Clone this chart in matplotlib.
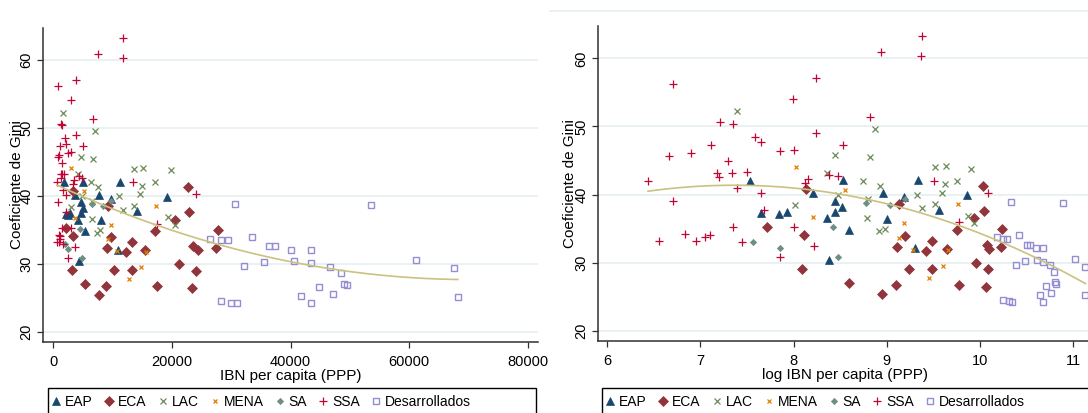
import numpy as np
import matplotlib
matplotlib.use("Agg")
import matplotlib.pyplot as plt
from matplotlib.lines import Line2D
from matplotlib.patches import Rectangle

plt.rcParams['font.family'] = ['Liberation Sans', 'DejaVu Sans']

# log del IBN per capita (PPP) y coeficiente de Gini por region
eap_log = [7.53, 8.21, 7.65, 7.84, 7.93, 8.38, 8.45, 8.45, 8.52, 8.36, 8.53, 9.33,
           8.96, 9.86, 9.18, 9.56, 9.00, 8.59, 9.30]
eap_gini = [42.0, 40.2, 37.3, 37.2, 37.5, 30.4, 39.1, 37.5, 38.2, 36.5, 42.1, 42.1,
            40.2, 39.9, 39.6, 37.8, 36.4, 34.8, 32.1]

eca_log = [8.13, 7.72, 8.11, 8.09, 10.03, 9.13, 10.04, 9.93, 9.75, 10.23, 9.19, 9.11,
           9.42, 9.49, 9.65, 10.07, 10.10, 10.22, 9.24, 9.49, 9.96, 10.09, 8.59, 8.95,
           9.10, 9.77, 10.06]
eca_gini = [40.8, 35.3, 34.1, 29.1, 41.3, 38.6, 37.6, 36.5, 34.8, 35.0, 33.9, 32.3,
            31.7, 33.2, 32.0, 32.6, 32.0, 32.3, 29.1, 29.1, 30.0, 29.0, 27.0, 25.4,
            26.7, 26.7, 26.5]

lac_log = [7.39, 8.02, 8.45, 8.36, 8.48, 8.75, 8.93, 9.62, 9.75, 9.32, 9.59, 8.80,
           9.38, 9.52, 9.87, 9.93, 8.79, 8.92, 8.98, 8.87, 8.82, 9.52, 9.63, 9.90]
lac_gini = [52.3, 38.4, 45.8, 43.2, 40.0, 42.0, 41.3, 41.5, 42.0, 40.0, 40.3, 39.3,
            38.0, 38.6, 36.9, 35.8, 36.6, 34.6, 35.0, 49.6, 45.5, 44.0, 44.2, 43.8]

mena_log = [8.03, 8.21, 8.55, 9.76, 9.18, 9.13, 9.28, 9.66, 9.60, 9.45]
mena_gini = [44.1, 36.7, 40.7, 38.6, 35.8, 33.6, 31.9, 31.8, 29.5, 27.8]

sa_log = [7.57, 7.85, 8.48, 8.42, 8.78, 9.03, 9.19]
sa_gini = [33.0, 32.2, 30.8, 35.2, 38.8, 38.5, 39.3]

ssa_log = [6.44, 6.71, 6.71, 6.66, 6.90, 7.12, 7.21, 7.35, 7.30, 7.18, 7.20, 7.34,
           7.39, 7.50, 7.59, 7.65, 7.65, 7.86, 8.01, 7.99, 8.24, 8.24, 8.16, 8.12,
           8.38, 8.48, 8.53, 7.68, 7.35, 8.00, 8.22, 6.56, 6.84, 6.95, 7.05, 7.11,
           7.45, 7.86, 8.94, 9.38, 9.37, 8.82, 9.51, 10.09, 9.77]
ssa_gini = [42.0, 56.2, 39.1, 45.7, 46.1, 47.3, 50.6, 50.4, 44.9, 43.2, 42.6, 43.2,
            40.9, 43.3, 48.5, 47.7, 40.2, 46.4, 46.5, 54.1, 49.0, 57.1, 42.3, 41.7,
            42.9, 42.7, 47.3, 37.7, 35.3, 35.3, 32.5, 33.2, 34.2, 33.2, 33.7, 34.1,
            33.0, 30.8, 60.9, 63.3, 60.3, 51.4, 42.0, 40.3, 35.9]

des_log = [10.33, 10.18, 10.25, 10.29, 10.42, 10.50, 10.53, 10.60, 10.68, 10.38,
           10.48, 10.61, 10.68, 10.75, 10.79, 10.80, 10.81, 10.71, 10.76, 10.64,
           10.68, 10.25, 10.31, 10.34, 10.89, 11.02, 11.12, 11.13]
des_gini = [38.9, 33.7, 33.5, 33.5, 34.0, 32.6, 32.6, 32.1, 32.1, 29.7, 30.3, 30.4,
            30.1, 29.6, 28.6, 27.1, 26.9, 26.6, 25.6, 25.3, 24.2, 24.5, 24.3, 24.2,
            38.7, 30.6, 29.4, 25.2]

labels = ['EAP', 'ECA', 'LAC', 'MENA', 'SA', 'SSA', 'Desarrollados']
series = [(eap_log, eap_gini), (eca_log, eca_gini), (lac_log, lac_gini),
          (mena_log, mena_gini), (sa_log, sa_gini), (ssa_log, ssa_gini),
          (des_log, des_gini)]

# estilo tipo Stata s2color
styles = [
    dict(marker='^', color='#1a476f', ms=5.5, mfc='#1a476f', mew=0.5),
    dict(marker='D', color='#90353b', ms=4.7, mfc='#90353b', mew=0.5),
    dict(marker='x', color='#6b8a55', ms=4.3, mew=0.9),
    dict(marker='x', color='#e37e00', ms=3.0, mew=0.9),
    dict(marker='D', color='#6e8e84', ms=3.2, mfc='#6e8e84', mew=0.5),
    dict(marker='+', color='#c10534', ms=6.0, mew=0.9),
    dict(marker='s', color='#938dd2', ms=5.0, mfc='none', mew=1.0),
]
fit_color = '#cac27e'
grid_color = '#e6eff1'

W, H = 1088, 413
fig = plt.figure(figsize=(W / 100, H / 100), dpi=100)
fig.patch.set_facecolor('white')


def draw_panel(ax, use_log):
    handles = []
    for (lx, gy), st, lab in zip(series, styles, labels):
        x = np.array(lx) if use_log else np.exp(lx)
        h, = ax.plot(x, gy, linestyle='none', label=lab, **st)
        handles.append(h)

    # ajuste cuadratico (qfit)
    all_x = np.concatenate([np.array(s[0]) for s in series])
    all_y = np.concatenate([np.array(s[1]) for s in series])
    if not use_log:
        all_x = np.exp(all_x)
    coef = np.polyfit(all_x, all_y, 2)
    xs = np.linspace(all_x.min(), all_x.max(), 200)
    ax.plot(xs, np.polyval(coef, xs), color=fit_color, lw=1.2, zorder=5)

    ax.set_ylim(18.5, 64.75)
    ax.set_yticks([20, 30, 40, 50, 60])
    ax.grid(axis='y', color=grid_color, lw=1.2)
    ax.set_axisbelow(True)
    for s in ['top', 'right']:
        ax.spines[s].set_visible(False)
    for s in ['left', 'bottom']:
        ax.spines[s].set_color('#303030')
        ax.spines[s].set_linewidth(1.1)
    ax.tick_params(direction='out', length=4, width=0.9, colors='#303030',
                   labelsize=10.5, labelcolor='black')
    ax.tick_params(axis='y', pad=8.0)
    ax.tick_params(axis='x', pad=5.5)
    for t in ax.get_yticklabels():
        t.set_rotation(90)
        t.set_va('center')
        t.set_ha('center')
    ax.set_ylabel('Coeficiente de Gini', fontsize=11)
    ax.yaxis.label.set_va('center')
    return handles


# panel izquierdo: IBN per capita
ax1 = fig.add_axes([43 / W, 1 - 342 / H, 495 / W, 314 / H])
h1 = draw_panel(ax1, use_log=False)
ax1.set_xlim(-1700, 81700)
ax1.set_xticks([0, 20000, 40000, 60000, 80000])
ax1.set_xlabel('IBN per capita (PPP)', fontsize=11, labelpad=0)
ax1.yaxis.set_label_coords((17 - 43) / 495, 0.5)

# panel derecho: log IBN per capita
ax2 = fig.add_axes([598 / W, 1 - 341 / H, 494 / W, 315 / H])
h2 = draw_panel(ax2, use_log=True)
ax2.set_xlim(5.904, 11.2)
ax2.set_xticks([6, 7, 8, 9, 10, 11])
ax2.set_xlabel('log IBN per capita (PPP)', fontsize=11, labelpad=0)
ax2.yaxis.set_label_coords((570 - 598) / 494, 0.5)

fig.add_artist(Line2D([550 / W, 1], [1 - 11 / H, 1 - 11 / H], color=grid_color, lw=1.2))

# leyendas: marco ancho como el area del grafico
for h, x0, x1 in [(h1, 48, 536), (h2, 602, 1092)]:
    fig.add_artist(Rectangle((x0 / W, 1 - 420 / H), (x1 - x0) / W, 32 / H,
                             transform=fig.transFigure, facecolor='white',
                             edgecolor='black', lw=1.0))
    leg = fig.legend(h, labels, loc='center left',
                     bbox_to_anchor=(x0 / W, 1 - 402 / H),
                     ncol=7, frameon=False, fontsize=10,
                     handlelength=0.6, handletextpad=0.35,
                     columnspacing=0.85, borderpad=0.0, borderaxespad=0.3)

fig.savefig('out.png', dpi=100, facecolor='white')
